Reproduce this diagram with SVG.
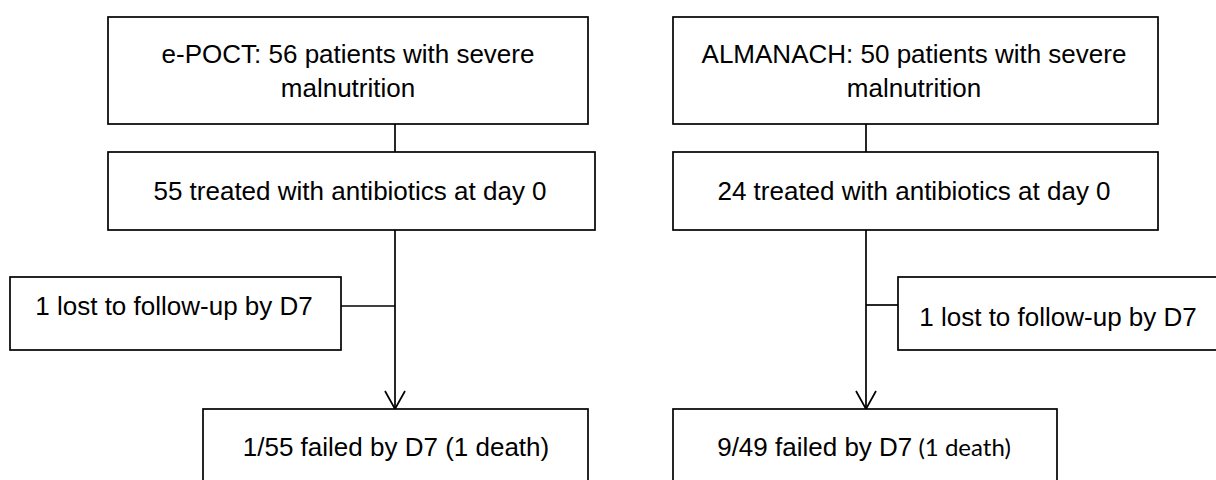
<svg xmlns="http://www.w3.org/2000/svg" width="1216" height="480" viewBox="0 0 1216 480">
  <style>
    .box { fill: #ffffff; stroke: #000000; stroke-width: 1.7; }
    .lbl { font-family: "Liberation Sans", Arial, sans-serif; font-size: 26px; fill: #000000; text-anchor: middle; }
    .cal { font-family: Lato, "Open Sans", sans-serif; font-size: 24px; }
    .edge { fill: none; stroke: #000000; stroke-width: 1.7; }
  </style>
  <defs>
    <marker id="arrow" markerUnits="userSpaceOnUse" viewBox="-20 -12 22 24" markerWidth="22" markerHeight="24" refX="0" refY="0" orient="auto" overflow="visible">
      <path d="M-18,-10 L0,0 L-18,10" fill="none" stroke="#000000" stroke-width="1.7"/>
    </marker>
  </defs>
  <rect width="1216" height="480" fill="#ffffff"/>

  <g id="connectors">
    <line class="edge" x1="395" y1="124" x2="395" y2="152"/>
    <line class="edge" x1="395" y1="230" x2="395" y2="409" marker-end="url(#arrow)"/>
    <line class="edge" x1="341" y1="306" x2="395" y2="306"/>
    <line class="edge" x1="866" y1="124" x2="866" y2="152"/>
    <line class="edge" x1="866" y1="230" x2="866" y2="409" marker-end="url(#arrow)"/>
    <line class="edge" x1="866" y1="305" x2="898" y2="305"/>
  </g>

  <g id="epoct-enrolled">
    <rect class="box" x="108" y="17" width="480" height="107"/>
    <text class="lbl" x="348" y="63">e-POCT: 56 patients with severe</text>
    <text class="lbl" x="348" y="97">malnutrition</text>
  </g>
  <g id="epoct-treated">
    <rect class="box" x="108" y="152" width="487" height="78"/>
    <text class="lbl" x="350" y="200">55 treated with antibiotics at day 0</text>
  </g>
  <g id="epoct-lost">
    <rect class="box" x="10" y="277" width="331" height="73"/>
    <text class="lbl" x="174" y="315">1 lost to follow-up by D7</text>
  </g>
  <g id="epoct-failed">
    <rect class="box" x="203" y="409" width="385" height="90"/>
    <text class="lbl" x="396" y="456">1/55 failed by D7 (1 death)</text>
  </g>

  <g id="almanach-enrolled">
    <rect class="box" x="673" y="17" width="485" height="107"/>
    <text class="lbl" x="914" y="63">ALMANACH: 50 patients with severe</text>
    <text class="lbl" x="914" y="97">malnutrition</text>
  </g>
  <g id="almanach-treated">
    <rect class="box" x="673" y="152" width="485" height="78"/>
    <text class="lbl" x="914" y="200">24 treated with antibiotics at day 0</text>
  </g>
  <g id="almanach-lost">
    <rect class="box" x="898" y="277" width="322" height="73"/>
    <text class="lbl" x="1058" y="326">1 lost to follow-up by D7</text>
  </g>
  <g id="almanach-failed">
    <rect class="box" x="673" y="409" width="384" height="90"/>
    <text class="lbl" x="864" y="456">9/49 failed by D7<tspan class="cal"> (1 death)</tspan></text>
  </g>
</svg>
